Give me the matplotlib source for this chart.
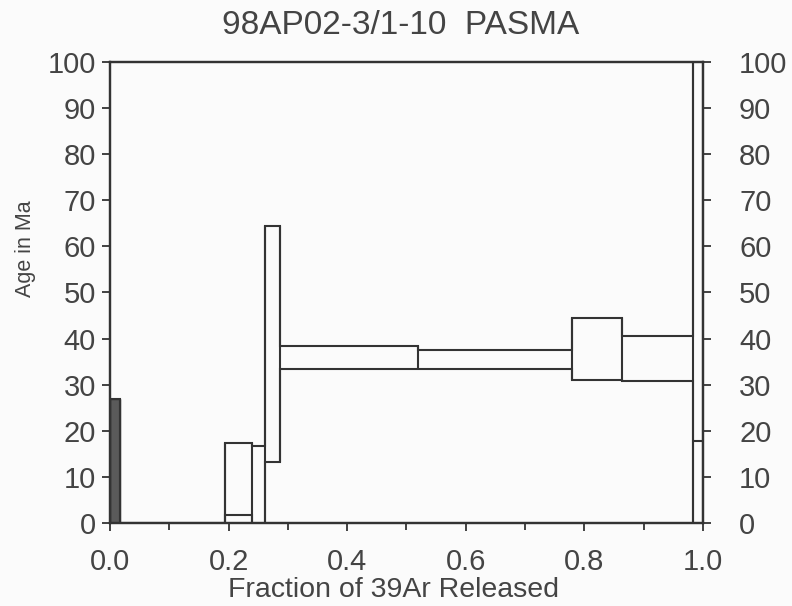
import matplotlib.pyplot as plt
import numpy as np

plt.rcParams['font.family'] = ['Liberation Sans', 'DejaVu Sans']

# Step heating results: cumulative 39Ar fraction edges and age envelope (Ma)
edges = [0.0, 0.017, 0.194, 0.240, 0.262, 0.287, 0.519, 0.779, 0.863, 0.983, 1.0]
age_hi = [27.0, 0.1, 17.3, 16.6, 64.4, 38.4, 37.6, 44.4, 40.6, 140.0]
age_lo = [-10.0, -10.0, 1.7, -10.0, 13.2, 33.4, 33.5, 31.0, 30.9, -10.0]
last_step_mark = 17.8

title = "98AP02-3/1-10  PASMA"
x_ticks = [0.0, 0.2, 0.4, 0.6, 0.8, 1.0]
x_minor = np.arange(0.1, 1.0, 0.2)
y_ticks = list(range(0, 101, 10))

ink = '#333333'
text_col = '#444444'
bg = '#fbfbfb'
lw = 1.5

fig = plt.figure(figsize=(7.92, 6.06), dpi=100, facecolor=bg)
ax = fig.add_axes([0.1389, 0.137, 0.7487, 0.7607], facecolor=bg)

# first step shaded
ax.bar(edges[0], age_hi[0] - age_lo[0], width=edges[1] - edges[0],
       bottom=age_lo[0], align='edge', color='#5a5a5a', edgecolor=ink, linewidth=1.0)

# upper and lower envelopes of each step
ax.stairs(age_hi, edges, baseline=None, color=ink, linewidth=lw)
ax.stairs(age_lo, edges, baseline=None, color=ink, linewidth=lw)

# vertical sides spanning neighbouring steps
for j, e in enumerate(edges):
    nb = [k for k in (j - 1, j) if 0 <= k < len(age_hi)]
    lo = min(age_lo[k] for k in nb)
    hi = max(age_hi[k] for k in nb)
    ax.vlines(e, lo, hi, color=ink, linewidth=lw)

ax.hlines(last_step_mark, edges[-2], edges[-1], color=ink, linewidth=lw)

ax.set_xlim(0, 1.0)
ax.set_ylim(0, 100)
ax.set_xticks(x_ticks)
ax.set_xticks(x_minor, minor=True)
ax.set_xticklabels([f"{v:.1f}" for v in x_ticks])
ax.set_yticks(y_ticks)
ax.tick_params(axis='both', direction='out', length=6, width=1.3, colors=ink,
               labelcolor=text_col, labelsize=21)
ax.tick_params(axis='x', which='minor', direction='out', length=5, width=1.3, colors=ink)
ax.tick_params(axis='x', pad=12)
ax.tick_params(axis='y', pad=4)

ax2 = ax.twinx()
ax2.set_ylim(0, 100)
ax2.set_yticks(y_ticks)
ax2.tick_params(axis='y', direction='out', length=6, width=1.3, colors=ink,
                labelcolor=text_col, labelsize=21, pad=20)

for a in (ax, ax2):
    for s in a.spines.values():
        s.set_color(ink)
        s.set_linewidth(1.6)

fig.text(0.506, 0.958, title, ha='center', va='center', fontsize=24, color=text_col)
fig.text(0.497, 0.027, "Fraction of 39Ar Released", ha='center', va='center',
         fontsize=20.5, color=text_col)
fig.text(0.032, 0.59, "Age in Ma", ha='center', va='center', rotation=90,
         fontsize=15.5, color=text_col)

fig.savefig('out.png', dpi=100, facecolor=bg)
